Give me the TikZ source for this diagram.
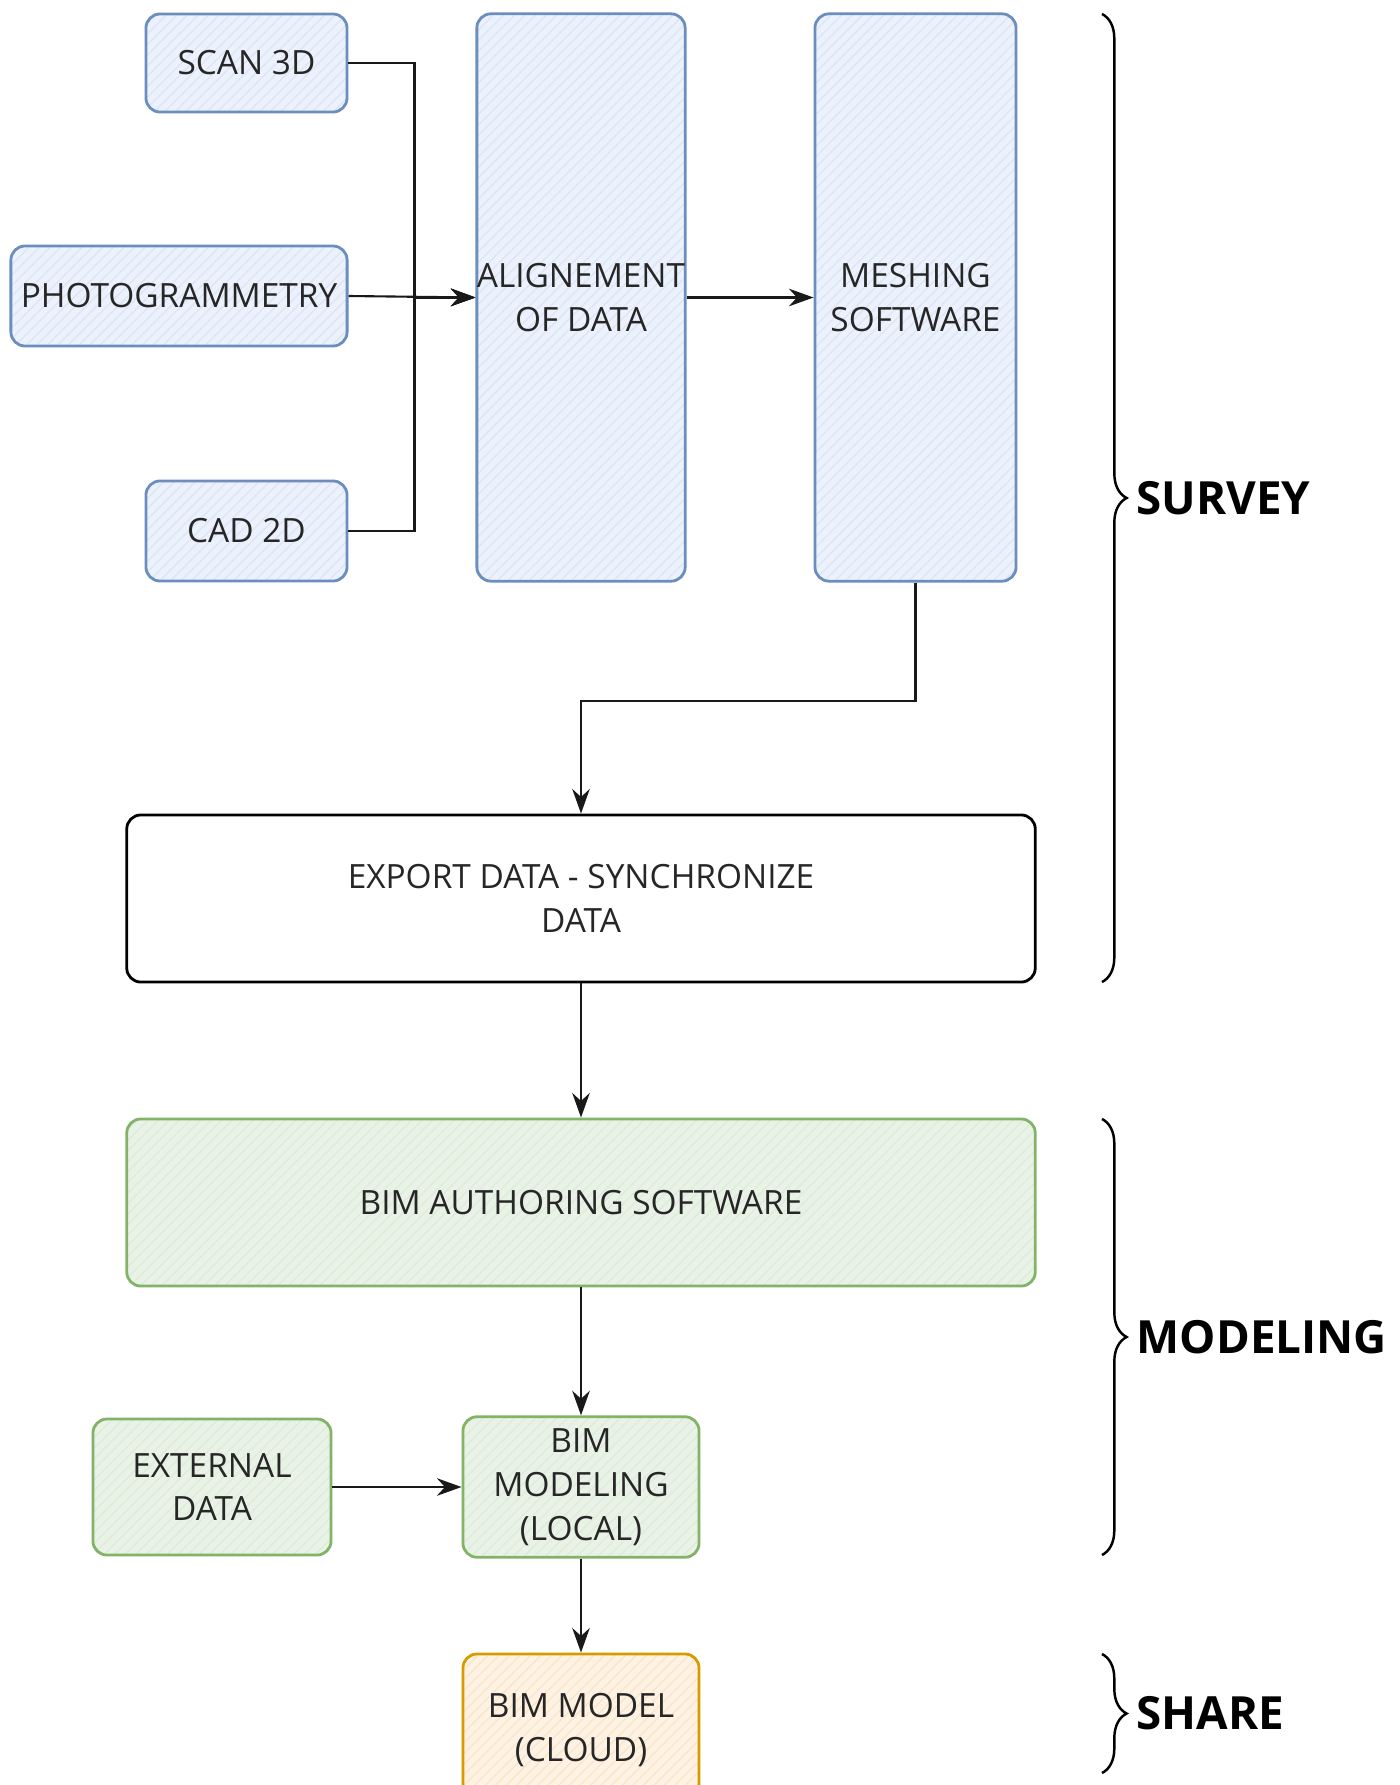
\documentclass[tikz,border=0pt]{standalone}
\usepackage{fontspec}
\setmainfont{Open Sans}
\usepackage{tikz}
\usetikzlibrary{arrows.meta, decorations.pathreplacing, patterns}

\definecolor{bluedraw}{HTML}{6C8EBF}
\definecolor{bluefill}{HTML}{DAE8FC}
\definecolor{greendraw}{HTML}{82B366}
\definecolor{greenfill}{HTML}{D5E8D4}
\definecolor{orangedraw}{HTML}{D79B00}
\definecolor{orangefill}{HTML}{FFE6CC}

\begin{document}
\begin{tikzpicture}[x=0.01cm, y=-0.01cm,
        box/.style={rectangle, draw, rounded corners=4pt, line width=0.8pt, align=center, inner xsep=1pt, font=\fontsize{9.5}{12.5}\selectfont, text=black!85},
        bluebox/.style={box, draw=bluedraw, preaction={fill=bluefill!55}, pattern=north east lines, pattern color=bluedraw!22},
        greenbox/.style={box, draw=greendraw, preaction={fill=greenfill!55}, pattern=north east lines, pattern color=greendraw!25},
        orangebox/.style={box, draw=orangedraw, preaction={fill=orangefill!55}, pattern=north east lines, pattern color=orangedraw!22},
        flow/.style={-{Stealth[length=7pt, width=5pt]}, line width=0.6pt, black!90},
        groupbrace/.style={decorate, decoration={brace, amplitude=7pt}, line width=0.7pt},
        bracelabel/.style={anchor=west, inner sep=0pt, font=\bfseries\fontsize{13}{16}\selectfont}]
        \useasboundingbox (0,0) rectangle (1399,1785);

        \node[bluebox, minimum width=2.01cm, minimum height=0.98cm] (scan) at (246.5,63) {SCAN 3D};
        \node[bluebox, minimum width=3.36cm, minimum height=1.00cm] (photo) at (179,296) {PHOTOGRAMMETRY};
        \node[bluebox, minimum width=2.01cm, minimum height=1.00cm] (cad) at (246.5,531) {CAD 2D};
        \node[bluebox, inner xsep=0pt, minimum width=2.04cm, minimum height=5.67cm] (align) at (581,297.5) {ALIGNEMENT\\OF DATA};
        \node[bluebox, minimum width=2.01cm, minimum height=5.67cm] (mesh) at (915.5,297.5) {MESHING\\SOFTWARE};

        \node[box, minimum width=9.08cm, minimum height=1.67cm] (export) at (581,898.5) {EXPORT DATA - SYNCHRONIZE\\DATA};
        \node[greenbox, minimum width=9.08cm, minimum height=1.67cm] (author) at (581,1202.5) {BIM AUTHORING SOFTWARE};
        \node[greenbox, minimum width=2.38cm, minimum height=1.36cm] (external) at (212,1487) {EXTERNAL\\DATA};
        \node[greenbox, minimum width=2.36cm, minimum height=1.36cm] (local) at (581,1487) {BIM\\MODELING\\(LOCAL)};
        \node[orangebox, minimum width=2.36cm, minimum height=1.52cm] (cloud) at (581,1730) {BIM MODEL\\(CLOUD)};

        \draw[flow] (scan.east) -- ++(66,0) |- (align.west);
        \draw[flow] (cad.east) -- ++(66,0) |- (align.west);
        \draw[flow] (photo.east) -- (align.west);
        \draw[flow] (align.east) -- (mesh.west);
        \draw[flow] (mesh.south) -- ++(0,118) -| (export.north);
        \draw[flow] (export) -- (author);
        \draw[flow] (author) -- (local);
        \draw[flow] (external) -- (local);
        \draw[flow] (local) -- (cloud);

        \draw[groupbrace] (1102,14) -- (1102,982);
        \draw[groupbrace] (1102,1119) -- (1102,1555);
        \draw[groupbrace] (1102,1654) -- (1102,1773);
        \node[bracelabel] (survey) at (1136,498) {SURVEY};
        \node[bracelabel] (modeling) at (1136,1337) {MODELING};
        \node[bracelabel] (share) at (1136,1713) {SHARE};
    \end{tikzpicture}
\end{document}
